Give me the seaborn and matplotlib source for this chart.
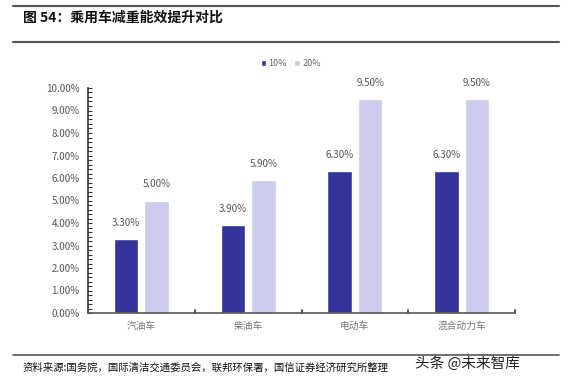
import matplotlib.pyplot as plt
import pandas as pd
import seaborn as sns
from matplotlib.ticker import MultipleLocator, FuncFormatter

# Data
categories = ['汽油车', '柴油车', '电动车', '混合动力车']
series_names = ['10%', '20%']
values_10 = [3.30, 3.90, 6.30, 6.30]
values_20 = [5.00, 5.90, 9.50, 9.50]

df = pd.DataFrame({
    'car': categories * 2,
    'group': [series_names[0]] * 4 + [series_names[1]] * 4,
    'value': values_10 + values_20,
})

sns.set_style('white')
plt.rcParams['font.family'] = ['Noto Sans CJK SC', 'DejaVu Sans']

fig = plt.figure(figsize=(5.73, 3.83), dpi=100)
ax = fig.add_axes([88 / 573, 1 - 313 / 383, 427 / 573, 225 / 383])

palette = {'10%': '#333399', '20%': '#ccccee'}
sns.barplot(data=df, x='car', y='value', hue='group', palette=palette,
            ax=ax, width=0.57, gap=0.2, saturation=1, legend=True)

# bar labels
for cont in ax.containers:
    ax.bar_label(cont, labels=[f'{v:.2f}%' for v in cont.datavalues],
                 padding=8, fontsize=7, color='#555555')

ax.set_ylim(0, 10)
ax.set_xlim(-0.5, 3.5)
ax.yaxis.set_major_locator(MultipleLocator(1))
ax.yaxis.set_minor_locator(MultipleLocator(0.2))
ax.yaxis.set_major_formatter(FuncFormatter(lambda v, p: f'{v:.2f}%'))
ax.tick_params(axis='y', which='both', direction='in', left=True,
               length=3, width=0.8, color='#333333', labelsize=7,
               labelcolor='#555555', pad=6)
ax.tick_params(axis='x', labelsize=7, labelcolor='#777777', length=0, pad=6)
ax.set_xticks(range(4))
ax.set_xticklabels(categories)
ax.set_xlabel('')
ax.set_ylabel('')
for side in ['top', 'right']:
    ax.spines[side].set_visible(False)
ax.spines['left'].set_color('#333333')
ax.spines['bottom'].set_color('#555555')
ax.spines['left'].set_linewidth(1.2)
ax.spines['bottom'].set_linewidth(1.2)
# small ticks at category boundaries
for b in [0.5, 1.5, 2.5, 3.5]:
    ax.plot([b, b], [0, 0.12], color='#333333', lw=1.2, clip_on=False)

leg = ax.legend(loc='center', bbox_to_anchor=(0.475, 1.107), ncol=2,
                frameon=False, fontsize=6.5, handlelength=0.6, handleheight=0.6,
                handletextpad=0.3, columnspacing=0.8, labelcolor='#666666')

# header / footer decorations
fig.add_artist(plt.Line2D([13 / 573, 559 / 573], [1 - 6 / 383] * 2, color='#555555', lw=1.5))
fig.add_artist(plt.Line2D([13 / 573, 559 / 573], [1 - 42 / 383] * 2, color='#555555', lw=1.5))
fig.add_artist(plt.Line2D([13 / 573, 559 / 573], [1 - 355 / 383] * 2, color='#555555', lw=1.2))
fig.text(23 / 573, 1 - 18 / 383, '图 54：乘用车减重能效提升对比', fontsize=10,
         fontweight='bold', va='center', ha='left', color='#111111')
fig.text(23 / 573, 1 - 368 / 383, '资料来源:国务院，国际清洁交通委员会，联邦环保署，国信证券经济研究所整理',
         fontsize=7.5, va='center', ha='left', color='#111111')
fig.text(415 / 573, 1 - 364 / 383, '头条 @未来智库', fontsize=10.5,
         va='center', ha='left', color='#222222')

fig.savefig('out.png', dpi=100)
